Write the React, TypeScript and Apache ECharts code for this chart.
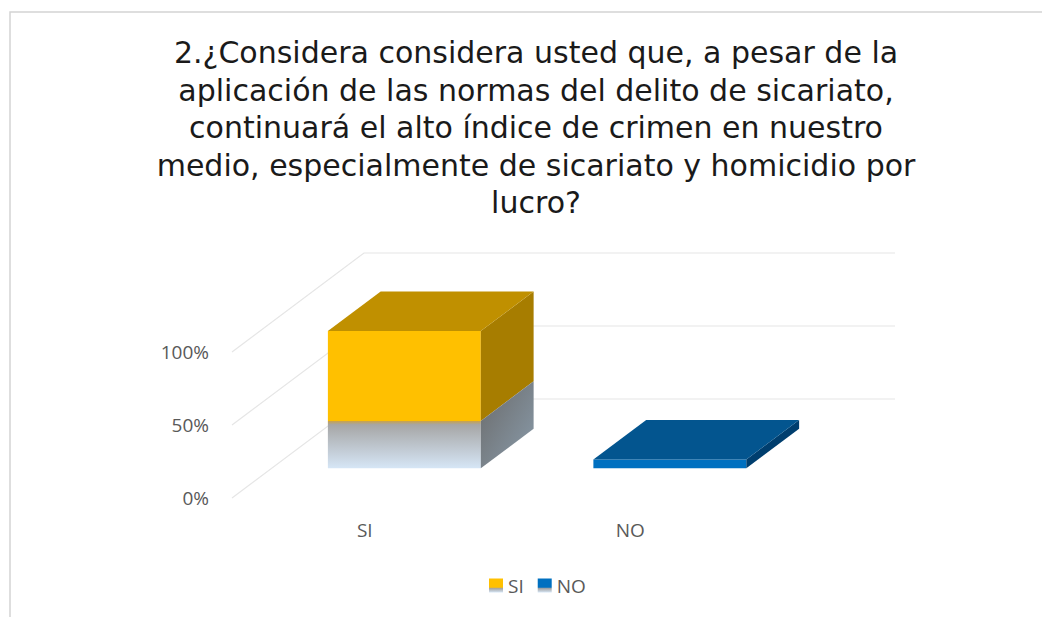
import React, { useEffect, useRef } from "react";
import * as echarts from "echarts";

const titleLines = [
  "2.¿Considera considera usted que, a pesar de la",
  "aplicación de las normas del delito de sicariato,",
  "continuará el alto índice de crimen en nuestro",
  "medio, especialmente de sicariato y homicidio por",
  "lucro?",
];
const categories = ["SI", "NO"];
const siValues = [94, "-"];
const noValues = ["-", 6];
const yTicks = [0, 50, 100];

const FONT = "'Open Sans', sans-serif";
const TITLE_FONT = "'DejaVu Sans', sans-serif";
const DEPTH_DX = 132;
const DEPTH_DY = -99;
const F0 = 0.3;
const F1 = 0.7;
const BAR_W = 0.576;

type Palette = {
  front: string;
  top: string;
  side: string;
  split?: number;
  lowFront?: any;
  lowSide?: any;
};

const siPalette: Palette = {
  front: "#ffc000",
  top: "#c09000",
  side: "#a77d00",
  split: 0.655,
  lowFront: new echarts.graphic.LinearGradient(0, 0, 0, 1, [
    { offset: 0, color: "#c9a24a" },
    { offset: 0.08, color: "#a6a6a6" },
    { offset: 1, color: "#d6e6f6" },
  ]),
  lowSide: new echarts.graphic.LinearGradient(0, 0, 1, 1, [
    { offset: 0, color: "#6a6a6a" },
    { offset: 1, color: "#8a9cab" },
  ]),
};
const noPalette: Palette = {
  front: "#0070c0",
  top: "#03558f",
  side: "#003e6e",
};

function makeBarRender(p: Palette) {
  return (params: any, api: any) => {
    const idx = api.value(0);
    const val = api.value(1);
    const base = api.coord([idx, 0]);
    const topP = api.coord([idx, val]);
    const band = api.size([1, 0])[0];
    const w = band * BAR_W;
    const x0 = base[0] - w / 2 + F0 * DEPTH_DX;
    const x1 = x0 + w;
    const yb = base[1] + F0 * DEPTH_DY;
    const yt = topP[1] + F0 * DEPTH_DY;
    const ddx = (F1 - F0) * DEPTH_DX;
    const ddy = (F1 - F0) * DEPTH_DY;
    const children: any[] = [];
    const poly = (pts: number[][], fill: any) => ({
      type: "polygon",
      shape: { points: pts },
      style: { fill, stroke: null },
    });
    if (p.split) {
      const ys = yt + (yb - yt) * p.split;
      children.push(poly([[x0, yt], [x1, yt], [x1, ys], [x0, ys]], p.front));
      children.push(poly([[x0, ys], [x1, ys], [x1, yb], [x0, yb]], p.lowFront));
      children.push(
        poly([[x1, yt], [x1 + ddx, yt + ddy], [x1 + ddx, ys + ddy], [x1, ys]], p.side)
      );
      children.push(
        poly([[x1, ys], [x1 + ddx, ys + ddy], [x1 + ddx, yb + ddy], [x1, yb]], p.lowSide)
      );
    } else {
      children.push(poly([[x0, yt], [x1, yt], [x1, yb], [x0, yb]], p.front));
      children.push(
        poly([[x1, yt], [x1 + ddx, yt + ddy], [x1 + ddx, yb + ddy], [x1, yb]], p.side)
      );
    }
    children.push(
      poly([[x0, yt], [x0 + ddx, yt + ddy], [x1 + ddx, yt + ddy], [x1, yt]], p.top)
    );
    return { type: "group", children };
  };
}

function renderGrid(params: any, api: any) {
  const cs = params.coordSys;
  const y = api.coord([0, api.value(1)])[1];
  const left = cs.x;
  const right = cs.x + cs.width;
  return {
    type: "polyline",
    shape: {
      points: [
        [left, y],
        [left + DEPTH_DX, y + DEPTH_DY],
        [right + DEPTH_DX, y + DEPTH_DY],
      ],
    },
    style: { stroke: "#e6e6e6", lineWidth: 1.2, fill: null },
    silent: true,
  };
}

export default function App() {
  const ref = useRef<HTMLDivElement>(null);
  useEffect(() => {
    if (!ref.current) return;
    const chart = echarts.init(ref.current, null, { renderer: "svg" });
    chart.setOption({
      animation: false,
      backgroundColor: "#ffffff",
      title: {
        text: titleLines.join("\n"),
        left: 531,
        textAlign: "center",
        top: 29,
        textStyle: {
          fontFamily: TITLE_FONT,
          fontSize: 30,
          fontWeight: "normal",
          color: "#1a1a1a",
          lineHeight: 37.5,
        },
      },
      graphic: [
        {
          type: "rect",
          shape: { x: 10, y: 12, width: 1200, height: 800 },
          style: { fill: null, stroke: "#d4d4d4", lineWidth: 1.5 },
          silent: true,
          z: -1,
        },
      ],
      legend: {
        data: categories,
        left: 484,
        top: 571,
        icon: "rect",
        itemWidth: 14,
        itemHeight: 14,
        itemGap: 14,
        textStyle: { fontFamily: FONT, fontSize: 19, color: "#595959" },
      },
      grid: { left: 232, right: 279, top: 352, bottom: 119 },
      xAxis: {
        type: "category",
        data: categories,
        axisLine: { show: false },
        axisTick: { show: false },
        axisLabel: {
          fontFamily: FONT,
          fontSize: 19,
          color: "#595959",
          margin: 22,
        },
      },
      yAxis: {
        type: "value",
        min: 0,
        max: 100,
        interval: 50,
        splitLine: { show: false },
        axisLine: { show: false },
        axisTick: { show: false },
        axisLabel: {
          formatter: "{value}%",
          fontFamily: FONT,
          fontSize: 19,
          color: "#595959",
          margin: 23,
        },
      },
      series: [
        {
          name: "grid",
          type: "custom",
          renderItem: renderGrid,
          data: yTicks.map((v) => [0, v]),
          encode: { x: 0, y: 1 },
          z: 1,
          silent: true,
        },
        {
          name: "SI",
          type: "custom",
          renderItem: makeBarRender(siPalette),
          data: siValues.map((v, i) => [i, v]),
          encode: { x: 0, y: 1 },
          itemStyle: {
            color: new echarts.graphic.LinearGradient(0, 0, 0, 1, [
              { offset: 0, color: "#ffc000" },
              { offset: 0.62, color: "#ffc000" },
              { offset: 0.72, color: "#a6a6a6" },
              { offset: 1, color: "#d6e6f6" },
            ]),
          },
          z: 2,
        },
        {
          name: "NO",
          type: "custom",
          renderItem: makeBarRender(noPalette),
          data: noValues.map((v, i) => [i, v]),
          encode: { x: 0, y: 1 },
          itemStyle: {
            color: new echarts.graphic.LinearGradient(0, 0, 0, 1, [
              { offset: 0, color: "#0070c0" },
              { offset: 0.62, color: "#0070c0" },
              { offset: 0.72, color: "#a6a6a6" },
              { offset: 1, color: "#d6e6f6" },
            ]),
          },
          z: 2,
        },
      ],
    });
    return () => chart.dispose();
  }, []);
  return (
    <div
      ref={ref}
      style={{ position: "fixed", left: 0, top: 0, width: 1042, height: 617 }}
    />
  );
}
